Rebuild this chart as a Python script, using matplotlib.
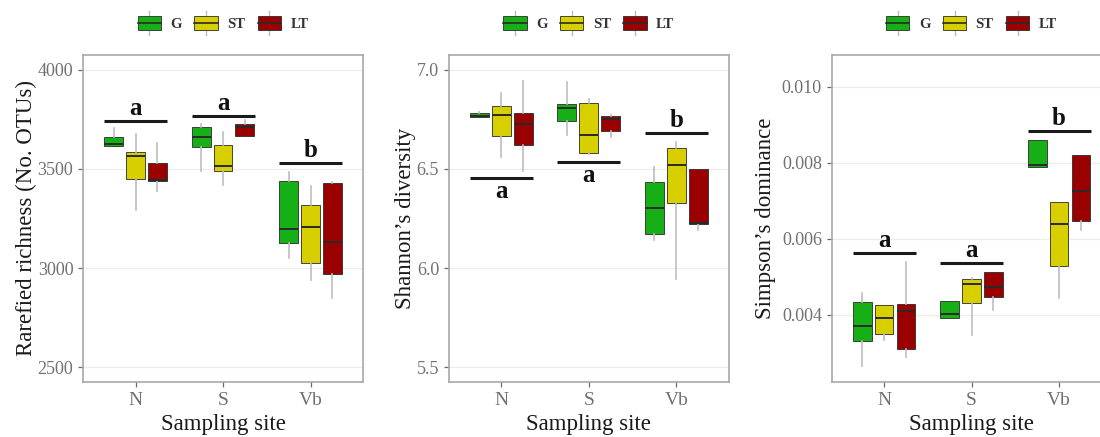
import matplotlib
matplotlib.use("Agg")
import matplotlib.pyplot as plt
from matplotlib.patches import Rectangle
from matplotlib.lines import Line2D
from matplotlib.legend_handler import HandlerBase

plt.rcParams['font.family'] = ['Liberation Serif', 'DejaVu Serif']

sites = ["N", "S", "Vb"]
groups = ["G", "ST", "LT"]
colors = ["#16B016", "#D8CF00", "#9A0000"]

# rows: G, ST, LT ; columns: N, S, Vb
rich_whishi = [[3707, 3725, 3486], [3678, 3686, 3412], [3632, 3746, 3436]]
rich_q3     = [[3661, 3712, 3437], [3585, 3620, 3317], [3530, 3725, 3429]]
rich_med    = [[3626, 3661, 3195], [3563, 3517, 3207], [3443, 3712, 3132]]
rich_q1     = [[3615, 3610, 3127], [3449, 3492, 3025], [3441, 3666, 2971]]
rich_whislo = [[3615, 3492, 3051], [3293, 3420, 2941], [3390, 3666, 2851]]

shan_whishi = [[6.790, 6.941, 6.508], [6.881, 6.851, 6.636], [6.944, 6.771, 6.500]]
shan_q3     = [[6.785, 6.830, 6.436], [6.817, 6.834, 6.607], [6.785, 6.768, 6.500]]
shan_med    = [[6.765, 6.810, 6.305], [6.771, 6.673, 6.519], [6.725, 6.754, 6.229]]
shan_q1     = [[6.760, 6.742, 6.173], [6.666, 6.581, 6.329], [6.619, 6.692, 6.224]]
shan_whislo = [[6.760, 6.669, 6.139], [6.559, 6.576, 5.946], [6.492, 6.661, 6.190]]

simp_whishi = [[0.004555, 0.004361, 0.008595], [0.004238, 0.004950, 0.006970], [0.005371, 0.005126, 0.008200]]
simp_q3     = [[0.004317, 0.004361, 0.008595], [0.004238, 0.004932, 0.006952], [0.004274, 0.005108, 0.008191]]
simp_med    = [[0.003694, 0.004010, 0.007936], [0.003896, 0.004792, 0.006373], [0.004098, 0.004730, 0.007260]]
simp_q1     = [[0.003307, 0.003896, 0.007892], [0.003500, 0.004291, 0.005284], [0.003105, 0.004467, 0.006469]]
simp_whislo = [[0.002640, 0.003896, 0.007892], [0.003325, 0.003474, 0.004423], [0.002886, 0.004115, 0.006223]]

rich_sig_y = [3742, 3768, 3529]
shan_sig_y = [6.454, 6.537, 6.681]
simp_sig_y = [0.005608, 0.005362, 0.008832]
sig_letters = ["a", "a", "b"]
shan_sig_pos = ["below", "below", "above"]
rich_sig_pos = ["above", "above", "above"]
simp_sig_pos = ["above", "above", "above"]

rich_ticks = [2500, 3000, 3500, 4000]
shan_ticks = [5.5, 6.0, 6.5, 7.0]
simp_ticks = [0.004, 0.006, 0.008, 0.010]
rich_ticklabels = ["2500", "3000", "3500", "4000"]
shan_ticklabels = ["5.5", "6.0", "6.5", "7.0"]
simp_ticklabels = ["0.004", "0.006", "0.008", "0.010"]

panels = [
    dict(wh=rich_whishi, q3=rich_q3, med=rich_med, q1=rich_q1, wl=rich_whislo,
         sig=rich_sig_y, pos=rich_sig_pos, ticks=rich_ticks, tl=rich_ticklabels,
         ylim=(2425, 4075), ylabel="Rarefied richness (No. OTUs)",
         rect=[0.0755, 0.126, 0.2545, 0.748], ylx=-0.165),
    dict(wh=shan_whishi, q3=shan_q3, med=shan_med, q1=shan_q1, wl=shan_whislo,
         sig=shan_sig_y, pos=shan_sig_pos, ticks=shan_ticks, tl=shan_ticklabels,
         ylim=(5.425, 7.075), ylabel="Shannon\u2019s diversity",
         rect=[0.408, 0.126, 0.2545, 0.748], ylx=-0.118),
    dict(wh=simp_whishi, q3=simp_q3, med=simp_med, q1=simp_q1, wl=simp_whislo,
         sig=simp_sig_y, pos=simp_sig_pos, ticks=simp_ticks, tl=simp_ticklabels,
         ylim=(0.002226, 0.01083), ylabel="Simpson\u2019s dominance",
         rect=[0.756, 0.126, 0.2545, 0.748], ylx=-0.197),
]

offsets = [-0.25, 0.0, 0.25]
box_w = 0.215
edge_col = "#2a2a2a"
whisk_col = "#bdbdbd"
grid_col = "#ececec"
frame_col = "#a8a8a8"
tick_col = "#6a6a6a"


class BoxHandler(HandlerBase):
    def create_artists(self, legend, orig_handle, xdescent, ydescent,
                       width, height, fontsize, trans):
        fc = orig_handle.get_facecolor()
        x0, y0 = -xdescent, -ydescent
        cx = x0 + width / 2
        bh = height * 0.76
        by = y0 + (height - bh) / 2
        w1 = Line2D([cx, cx], [y0 - height * 0.12, by], color=whisk_col, lw=1.0, transform=trans)
        w2 = Line2D([cx, cx], [by + bh, y0 + height * 1.12], color=whisk_col, lw=1.0, transform=trans)
        r = Rectangle((x0, by), width, bh, facecolor=fc, edgecolor=edge_col, lw=0.6, transform=trans)
        m = Line2D([x0, x0 + width], [by + bh / 2, by + bh / 2], color=edge_col, lw=1.2, transform=trans)
        return [w1, w2, r, m]


fig = plt.figure(figsize=(11, 4.37), dpi=100)

for p in panels:
    ax = fig.add_axes(p["rect"])
    ax.set_xlim(-0.6, 2.6)
    ax.set_ylim(*p["ylim"])
    for gi in range(3):
        stats = []
        positions = []
        for si in range(3):
            stats.append(dict(whislo=p["wl"][gi][si], q1=p["q1"][gi][si], med=p["med"][gi][si],
                              q3=p["q3"][gi][si], whishi=p["wh"][gi][si], fliers=[]))
            positions.append(si + offsets[gi])
        ax.bxp(stats, positions=positions, widths=box_w, patch_artist=True,
               showcaps=False, showfliers=False, manage_ticks=False,
               boxprops=dict(facecolor=colors[gi], edgecolor=edge_col, linewidth=0.6),
               medianprops=dict(color=edge_col, linewidth=1.4),
               whiskerprops=dict(color=whisk_col, linewidth=1.2), zorder=3)
    # significance bars
    for si in range(3):
        y = p["sig"][si]
        ax.plot([si - 0.36, si + 0.36], [y, y], color="#1a1a1a", lw=2.2,
                solid_capstyle="butt", zorder=4)
        if p["pos"][si] == "above":
            ax.annotate(sig_letters[si], xy=(si, y), xytext=(0, 4.5), textcoords="offset points",
                        ha="center", va="baseline", fontsize=18, fontweight="bold", color="#111111")
        else:
            ax.annotate(sig_letters[si], xy=(si, y), xytext=(0, -14.5), textcoords="offset points",
                        ha="center", va="baseline", fontsize=18, fontweight="bold", color="#111111")
    ax.set_yticks(p["ticks"])
    ax.set_yticklabels(p["tl"])
    ax.set_xticks(range(3))
    ax.set_xticklabels(sites)
    ax.yaxis.grid(True, color=grid_col, lw=0.9, zorder=0)
    ax.xaxis.grid(False)
    ax.set_axisbelow(True)
    for s in ax.spines.values():
        s.set_color(frame_col)
        s.set_linewidth(1.2)
    ax.tick_params(axis="both", colors=tick_col, length=3.5, width=0.9, labelsize=13,
                   labelcolor="#707070")
    ax.tick_params(axis="x", pad=4, labelsize=14)
    ax.set_ylabel(p["ylabel"], fontsize=16.5, color="#1a1a1a")
    ax.yaxis.set_label_coords(p["ylx"], 0.5)
    ax.set_xlabel("Sampling site", fontsize=16.5, color="#1a1a1a", labelpad=3)
    handles = [Rectangle((0, 0), 1, 1, facecolor=c) for c in colors]
    ax.legend(handles, groups, loc="center", bbox_to_anchor=(0.5, 1.098), ncol=3,
              frameon=False, handler_map={Rectangle: BoxHandler()},
              prop=dict(size=10.5, weight="bold"), handlelength=1.6, handleheight=1.65,
              handletextpad=0.65, columnspacing=0.85, labelcolor="#333333")

fig.savefig("out.png", dpi=100)
